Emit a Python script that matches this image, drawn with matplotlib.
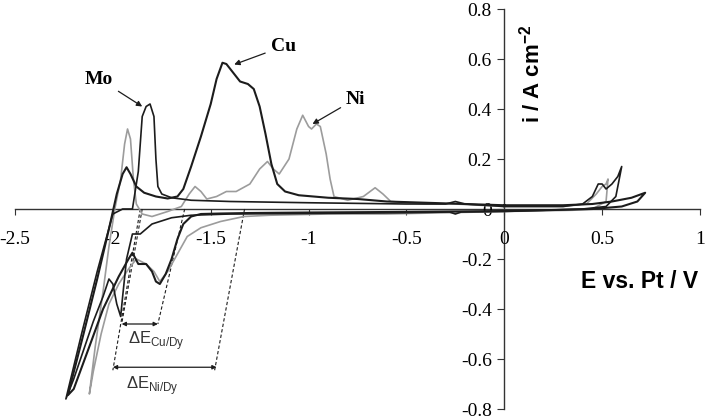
"""Cyclic voltammograms (Mo, Cu, Ni working electrodes) with Dy deposition shifts."""

import matplotlib

matplotlib.use("Agg")

import matplotlib.pyplot as plt

plt.rcParams["axes.unicode_minus"] = False

# ---- data (E / V vs. Pt, i / A cm-2) ----
cu_E = [0.0, 0.3, 0.45, 0.55, 0.65, 0.72, 0.68, 0.6, 0.45, 0.2, 0.0, -0.3, -0.6,
        -1.0, -1.3, -1.45, -1.55, -1.6, -1.64, -1.67, -1.7, -1.73, -1.76, -1.78,
        -1.8, -1.83, -1.87, -1.9, -1.92, -1.97, -2.05, -2.12, -2.2, -2.23,
        -2.15, -2.08, -2.02, -1.98, -1.95, -1.93, -1.91, -1.88, -1.84, -1.78,
        -1.72, -1.67, -1.64, -1.6, -1.55, -1.5, -1.47, -1.44, -1.42, -1.39,
        -1.35, -1.31, -1.28, -1.25, -1.22, -1.19, -1.16, -1.12, -1.05, -0.9,
        -0.75, -0.6, -0.4, -0.2, 0.0]
cu_i = [0.015, 0.015, 0.02, 0.03, 0.045, 0.065, 0.03, 0.01, 0.0, -0.005, -0.008,
        -0.01, -0.012, -0.014, -0.016, -0.018, -0.02, -0.03, -0.06, -0.12, -0.2,
        -0.26, -0.3, -0.29, -0.25, -0.22, -0.22, -0.175, -0.2, -0.27, -0.4,
        -0.55, -0.72, -0.745, -0.5, -0.28, -0.08, 0.06, 0.14, 0.167, 0.14, 0.09,
        0.065, 0.05, 0.042, 0.05, 0.08, 0.17, 0.29, 0.42, 0.52, 0.585, 0.58,
        0.55, 0.51, 0.5, 0.48, 0.41, 0.3, 0.18, 0.1, 0.07, 0.055, 0.045, 0.04,
        0.03, 0.025, 0.02, 0.015]

mo_E = [0.0, 0.3, 0.4, 0.45, 0.48, 0.5, 0.52, 0.55, 0.58, 0.6, 0.57, 0.52, 0.4,
        0.0, -0.22, -0.25, -0.28, -0.5, -1.0, -1.4, -1.6, -1.7, -1.8, -1.86,
        -1.9, -1.93, -1.95, -1.96, -1.98, -2.0, -2.02, -2.05, -2.1, -2.2,
        -2.24, -2.16, -2.08, -2.0, -1.95, -1.9, -1.87, -1.85, -1.83, -1.81,
        -1.79, -1.78, -1.77, -1.75, -1.7, -1.6, -1.4, -1.0, -0.5, -0.3, -0.25,
        -0.2, 0.0]
mo_i = [0.01, 0.01, 0.02, 0.05, 0.1, 0.1, 0.08, 0.1, 0.13, 0.17, 0.05, 0.01,
        0.0, -0.01, -0.012, -0.02, -0.012, -0.015, -0.018, -0.02, -0.025,
        -0.035, -0.06, -0.1, -0.1, -0.2, -0.35, -0.43, -0.38, -0.3, -0.28,
        -0.35, -0.45, -0.68, -0.76, -0.5, -0.25, -0.02, 0.0, 0.0, 0.15, 0.37,
        0.41, 0.42, 0.37, 0.2, 0.09, 0.06, 0.045, 0.035, 0.03, 0.025, 0.02,
        0.02, 0.03, 0.02, 0.01]

ni_E = [0.0, 0.3, 0.42, 0.47, 0.5, 0.52, 0.53, 0.52, 0.45, 0.35, 0.0, -0.3,
        -0.6, -0.9, -1.2, -1.33, -1.45, -1.55, -1.62, -1.67, -1.72, -1.76,
        -1.79, -1.83, -1.88, -1.92, -1.97, -2.02, -2.06, -2.1, -2.12, -2.09,
        -2.05, -2.02, -1.99, -1.96, -1.94, -1.925, -1.91, -1.895, -1.88,
        -1.85, -1.8, -1.72, -1.65, -1.61, -1.58, -1.55, -1.52, -1.47, -1.42,
        -1.37, -1.3, -1.25, -1.21, -1.18, -1.15, -1.1, -1.06, -1.03, -1.0,
        -0.985, -0.96, -0.94, -0.91, -0.89, -0.87, -0.8, -0.72, -0.66, -0.62,
        -0.58, -0.4, -0.25, 0.0]
ni_i = [0.01, 0.01, 0.02, 0.06, 0.09, 0.1, 0.12, 0.03, 0.0, -0.005, -0.01,
        -0.015, -0.02, -0.02, -0.025, -0.03, -0.05, -0.075, -0.11, -0.18,
        -0.25, -0.29, -0.25, -0.22, -0.2, -0.24, -0.3, -0.38, -0.5, -0.65,
        -0.74, -0.55, -0.33, -0.15, 0.0, 0.12, 0.26, 0.32, 0.28, 0.12, 0.02,
        -0.02, -0.03, -0.01, 0.01, 0.06, 0.09, 0.07, 0.04, 0.05, 0.07, 0.07,
        0.1, 0.16, 0.19, 0.16, 0.14, 0.2, 0.32, 0.375, 0.33, 0.32, 0.34, 0.33,
        0.22, 0.12, 0.05, 0.035, 0.05, 0.085, 0.06, 0.03, 0.02, 0.02, 0.01]

# construction lines for the deposition potential shifts: (E_top, E_bottom, i_bottom)
cu_dy_guides = [(-1.85, -1.955, -0.46), (-1.633, -1.77, -0.46)]
ni_dy_guides = [(-1.86, -2.0, -0.645), (-1.327, -1.48, -0.645)]
cu_dy_span = (-1.955, -1.77, -0.46)
ni_dy_span = (-2.0, -1.47, -0.633)

x_ticks = [-2.5, -2, -1.5, -1, -0.5, 0, 0.5, 1]
x_labels = ["-2.5", "-2", "-1.5", "-1", "-0.5", "0", "0.5", "1"]
y_ticks = [-0.8, -0.6, -0.4, -0.2, 0, 0.2, 0.4, 0.6, 0.8]
y_labels = ["-0.8", "-0.6", "-0.4", "-0.2", "0", "0.2", "0.4", "0.6", "0.8"]

BLACK = "#1c1c1c"
GRAY = "#9c9c9c"
SERIF = "Liberation Serif"
SANS = "Liberation Sans"

fig = plt.figure(figsize=(7.11, 4.2), dpi=100)
ax = fig.add_axes([15 / 711, 11 / 420, 685 / 711, 400 / 420])

ax.plot(ni_E, ni_i, color=GRAY, lw=1.2, zorder=3)
ax.plot(mo_E, mo_i, color=BLACK, lw=1.2, zorder=4)
ax.plot(cu_E, cu_i, color=BLACK, lw=1.5, zorder=5)

for e_top, e_bot, i_bot in cu_dy_guides + ni_dy_guides:
    ax.plot([e_top, e_bot], [0, i_bot], color=BLACK, lw=0.8, ls=(0, (3, 2)), zorder=2)

for (e1, e2, i_y) in (cu_dy_span, ni_dy_span):
    ax.annotate("", xy=(e2, i_y), xytext=(e1, i_y),
                arrowprops=dict(arrowstyle="<|-|>", lw=0.9, color=BLACK,
                                mutation_scale=6, shrinkA=0, shrinkB=0))

ax.text(-1.78, -0.525, r"ΔE$_{\mathregular{Cu/Dy}}$", ha="center", va="center",
        fontsize=12, family=SANS, color="#333333")
ax.text(-1.8, -0.705, r"ΔE$_{\mathregular{Ni/Dy}}$", ha="center", va="center",
        fontsize=12, family=SANS, color="#333333")

label_arrow = dict(arrowstyle="-|>", lw=0.9, color=BLACK, mutation_scale=8,
                   shrinkA=2, shrinkB=0)
ax.annotate("Mo", xy=(-1.85, 0.41), xytext=(-2.07, 0.52), ha="center", va="center",
            fontsize=14, fontweight="bold", family=SERIF, arrowprops=label_arrow)
ax.annotate("Cu", xy=(-1.38, 0.578), xytext=(-1.13, 0.65), ha="center", va="center",
            fontsize=14, fontweight="bold", family=SERIF, arrowprops=label_arrow)
ax.annotate("Ni", xy=(-0.98, 0.34), xytext=(-0.76, 0.44), ha="center", va="center",
            fontsize=14, fontweight="bold", family=SERIF, arrowprops=label_arrow)

ax.text(0.69, -0.29, "E vs. Pt / V", ha="center", va="center", fontsize=16.5,
        fontweight="bold", family=SANS)
ax.text(0.14, 0.54, r"i / A cm$^{\mathregular{-2}}$", ha="center", va="center",
        rotation=90, fontsize=16, fontweight="bold", family=SANS)

ax.set_xlim(-2.5, 1)
ax.set_ylim(-0.8, 0.8)
ax.spines["left"].set_position(("data", 0))
ax.spines["bottom"].set_position(("data", 0))
ax.spines["top"].set_visible(False)
ax.spines["right"].set_visible(False)
for side in ("left", "bottom"):
    ax.spines[side].set_linewidth(1.0)
    ax.spines[side].set_color("#333333")
    ax.spines[side].set_zorder(1)

ax.set_xticks(x_ticks)
ax.set_xticklabels(x_labels, family=SERIF, fontsize=14)
ax.set_yticks(y_ticks)
ax.set_yticklabels(y_labels, family=SERIF, fontsize=14)
ax.tick_params(axis="x", direction="out", length=4, pad=12, color="#333333")
ax.tick_params(axis="y", direction="out", length=5, pad=4, color="#333333")
ax.patch.set_visible(False)

fig.savefig("out.png", dpi=100)
